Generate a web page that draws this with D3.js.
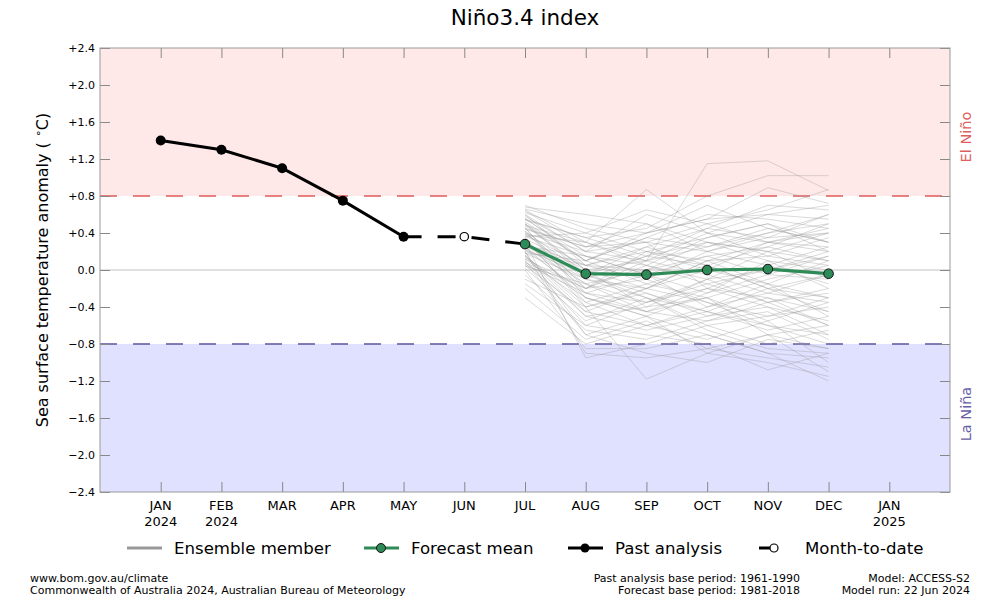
<!DOCTYPE html>
<html><head><meta charset="utf-8">
<script src="https://cdn.jsdelivr.net/npm/d3@7"></script>
<style>body{margin:0;background:#fff}svg{font-family:"DejaVu Sans",sans-serif}</style>
</head><body>
<svg id="c" width="1000" height="600"></svg>
<script>
const monthLabels = ["JAN","FEB","MAR","APR","MAY","JUN","JUL","AUG","SEP","OCT","NOV","DEC","JAN"];
const yearLabels  = ["2024","2024","","","","","","","","","","","2025"];
const yTicks = [2.4,2.0,1.6,1.2,0.8,0.4,0.0,-0.4,-0.8,-1.2,-1.6,-2.0,-2.4];
const pastIdx = [0,1,2,3,4];
const pastVals = [1.40,1.30,1.10,0.75,0.36];
const mtdIdx = [4,5,6];
const mtdVals = [0.36,0.36,0.28];
const fcIdx = [6,7,8,9,10,11];
const fcVals = [0.28,-0.04,-0.05,0.00,0.01,-0.04];
const ensIdx = [6,7,8,9,10,11];
const ensemble = [
[0.70,0.45,0.30,0.20,0.35,0.40],[0.65,0.30,0.87,0.40,0.30,0.25],[0.60,0.20,0.10,1.15,1.18,0.86],
[0.55,0.35,0.45,0.80,1.02,1.02],[0.50,0.10,0.40,0.55,0.89,0.72],[0.45,0.25,0.30,0.50,0.65,0.87],
[0.68,0.60,0.50,0.30,0.20,0.10],[0.40,-0.10,-0.30,-0.45,-0.60,-0.70],[0.35,-0.40,-1.18,-0.90,-0.70,-0.60],
[0.30,-0.95,-0.80,-0.60,-0.50,-0.40],[0.20,-0.70,-0.90,-1.00,-0.75,-0.85],[0.10,-0.60,-0.70,-0.80,-1.08,-0.90],
[0.25,-0.30,-0.50,-0.70,-0.90,-1.20],[0.15,-0.50,-0.40,-0.30,-0.55,-1.00],[0.00,-0.85,-0.85,-0.70,-0.90,-0.95],
[-0.10,-0.40,-0.20,-0.35,-0.60,-0.80],[-0.30,-0.80,-0.60,-0.45,-0.20,-0.30],[0.50,0.00,-0.20,0.10,0.30,0.20],
[0.55,0.15,0.05,-0.10,0.00,0.15],[0.45,-0.20,-0.10,0.20,0.40,0.50],[0.38,0.05,0.25,0.45,0.35,0.60],
[0.32,-0.15,-0.35,-0.20,0.05,0.25],[0.28,-0.05,0.15,0.30,0.20,-0.10],[0.22,-0.25,-0.45,-0.55,-0.35,-0.20],
[0.18,0.10,0.35,0.60,0.55,0.45],[0.12,-0.35,-0.15,0.05,-0.20,-0.45],[0.05,-0.45,-0.60,-0.40,-0.25,-0.05],
[0.62,0.40,0.20,0.35,0.50,0.30],[0.58,0.20,0.60,0.40,0.15,0.05],[0.48,0.30,0.10,-0.05,-0.25,-0.35],
[0.42,-0.05,-0.25,-0.50,-0.40,-0.55],[0.36,0.15,-0.05,0.15,0.25,0.10],[0.30,-0.20,0.05,-0.15,-0.35,-0.25],
[0.26,-0.10,-0.20,0.10,0.15,0.35],[0.20,0.05,0.20,0.00,-0.15,-0.30],[0.14,-0.30,-0.50,-0.25,0.10,0.00],
[0.08,-0.20,0.10,0.25,0.45,0.30],[0.02,-0.55,-0.30,-0.60,-0.80,-0.65],[-0.05,-0.65,-0.75,-0.55,-0.45,-0.75],
[-0.20,-0.75,-0.55,-0.85,-0.95,-1.05],[0.66,0.50,0.40,0.55,0.60,0.55],[0.52,0.10,-0.15,-0.30,-0.10,0.05],
[0.44,0.25,0.50,0.20,0.05,-0.15],[0.34,0.00,-0.40,-0.10,0.20,0.40],[0.24,-0.15,0.00,0.30,0.10,-0.20],
[0.16,-0.40,-0.25,-0.45,-0.65,-0.50],[0.06,-0.25,-0.35,-0.15,0.00,0.20],[0.60,0.05,0.00,0.15,-0.05,-0.10],
[0.40,0.20,0.30,-0.20,-0.30,-0.45],[0.28,0.05,-0.10,-0.35,-0.50,-0.30],[0.18,-0.10,0.15,0.45,0.70,0.65],
[0.10,-0.50,-0.65,-0.50,-0.30,-0.60],[0.54,0.35,0.15,0.05,0.25,0.50],[0.46,-0.30,-0.45,-0.20,-0.40,-0.70],
[0.38,0.30,0.05,0.35,0.50,0.20],[0.22,-0.05,-0.30,-0.65,-0.85,-0.90],[0.12,-0.20,0.20,0.10,-0.15,0.10],
[0.64,0.25,0.40,0.70,0.45,0.30],[0.50,-0.05,0.25,0.05,-0.20,-0.05],[0.32,-0.35,-0.60,-0.75,-0.55,-0.35],
[0.26,0.15,-0.05,-0.25,-0.05,0.15],[0.16,-0.45,-0.20,0.00,0.30,0.40],[0.04,-0.15,-0.45,-0.30,-0.70,-0.85],
[0.56,0.10,0.35,0.25,0.40,0.60],[0.42,-0.25,-0.05,-0.40,-0.15,-0.50],[0.36,0.40,0.65,0.50,0.30,0.45],
[0.20,-0.90,-0.95,-0.85,-0.70,-1.10],[0.08,-0.70,-0.50,-0.90,-1.00,-1.15],[-0.15,-0.60,-0.35,-0.10,-0.35,-0.60],
[0.48,0.00,0.10,0.40,0.60,0.70]
];
const elNino = 0.8, laNina = -0.8;

const svg = d3.select("#c");
const L=100,R=950,T=48,B=492;
const x = d3.scaleLinear().domain([-1,13]).range([L,R]);
const y = d3.scaleLinear().domain([-2.4,2.4]).range([B,T]);

// background bands
svg.append("rect").attr("x",L).attr("y",y(2.4)).attr("width",R-L).attr("height",y(elNino)-y(2.4)).attr("fill","#ffe8e8");
svg.append("rect").attr("x",L).attr("y",y(laNina)).attr("width",R-L).attr("height",y(-2.4)-y(laNina)).attr("fill","#e0e0ff");
// zero line
svg.append("line").attr("x1",L).attr("x2",R).attr("y1",y(0)).attr("y2",y(0)).attr("stroke","#c4c4c4").attr("stroke-width",1.2);
// threshold lines
svg.append("line").attr("x1",L).attr("x2",R).attr("y1",y(elNino)).attr("y2",y(elNino)).attr("stroke","#e05a5a").attr("stroke-width",1.5).attr("stroke-dasharray","17,16");
svg.append("line").attr("x1",L).attr("x2",R).attr("y1",y(laNina)).attr("y2",y(laNina)).attr("stroke","#5a55a0").attr("stroke-width",1.5).attr("stroke-dasharray","17,16");

// axes (ticks inward)
const ax = d3.range(0,13);
const xb = svg.append("g").attr("transform",`translate(0,${B})`).call(d3.axisBottom(x).tickValues(ax).tickSizeInner(-10).tickSizeOuter(0).tickFormat(""));
const xt = svg.append("g").attr("transform",`translate(0,${T})`).call(d3.axisTop(x).tickValues(ax).tickSizeInner(-10).tickSizeOuter(0).tickFormat(""));
const fmt = v => v===0 ? "0.0" : (v>0?"+":"\u2212")+Math.abs(v).toFixed(1);
const yl = svg.append("g").attr("transform",`translate(${L},0)`).call(d3.axisLeft(y).tickValues(yTicks).tickSizeInner(-10).tickSizeOuter(0).tickPadding(6).tickFormat(fmt));
const yr = svg.append("g").attr("transform",`translate(${R},0)`).call(d3.axisRight(y).tickValues(yTicks).tickSizeInner(-10).tickSizeOuter(0).tickFormat(""));
[xb,xt,yl,yr].forEach(g=>{g.select(".domain").remove();g.selectAll("line").attr("stroke","#888");});
yl.selectAll("text").attr("font-size",11).attr("fill","#000").attr("font-family","DejaVu Sans").attr("x",-5);
// frame
svg.append("rect").attr("x",L).attr("y",T).attr("width",R-L).attr("height",B-T).attr("fill","none").attr("stroke","#999").attr("stroke-width",1);

// x labels
const xl = svg.append("g").attr("font-size",13).attr("text-anchor","middle");
ax.forEach(i=>{
  xl.append("text").attr("x",x(i)).attr("y",B+18).text(monthLabels[i]);
  if(yearLabels[i]) xl.append("text").attr("x",x(i)).attr("y",B+34).text(yearLabels[i]);
});

// ensemble
const line = d3.line().x(d=>x(d[0])).y(d=>y(d[1]));
svg.append("g").selectAll("path").data(ensemble).join("path")
  .attr("d",m=>line(m.map((v,k)=>[ensIdx[k],v])))
  .attr("fill","none").attr("stroke","#999").attr("stroke-opacity",0.36).attr("stroke-width",1);

// month-to-date
svg.append("path").attr("d",line(mtdIdx.map((d,k)=>[d,mtdVals[k]]))).attr("fill","none").attr("stroke","#000").attr("stroke-width",3).attr("stroke-dasharray","18,16");
// past analysis
svg.append("path").attr("d",line(pastIdx.map((d,k)=>[d,pastVals[k]]))).attr("fill","none").attr("stroke","#000").attr("stroke-width",3);
svg.append("g").selectAll("circle").data(pastIdx).join("circle").attr("cx",d=>x(d)).attr("cy",(d,k)=>y(pastVals[k])).attr("r",5).attr("fill","#000");
svg.append("circle").attr("cx",x(mtdIdx[1])).attr("cy",y(mtdVals[1])).attr("r",4.2).attr("fill","#fff").attr("stroke","#000").attr("stroke-width",1.2);
// forecast mean
svg.append("path").attr("d",line(fcIdx.map((d,k)=>[d,fcVals[k]]))).attr("fill","none").attr("stroke","#2e8b57").attr("stroke-width",3.2);
svg.append("g").selectAll("circle").data(fcIdx).join("circle").attr("cx",d=>x(d)).attr("cy",(d,k)=>y(fcVals[k])).attr("r",4.8).attr("fill","#2e8b57").attr("stroke","#111").attr("stroke-width",1);

// side labels
svg.append("text").attr("transform",`translate(971,137) rotate(-90)`).attr("text-anchor","middle").attr("font-size",14.5).attr("fill","#dd5f5f").text("El Niño");
svg.append("text").attr("transform",`translate(971,${(y(-2.4)+y(laNina))/2-4}) rotate(-90)`).attr("text-anchor","middle").attr("font-size",14.5).attr("fill","#6660a6").text("La Niña");

// title
svg.append("text").attr("x",525).attr("y",25).attr("text-anchor","middle").attr("font-size",21.5).text("Niño3.4 index");
// y label
const yt = svg.append("text").attr("transform",`translate(48,270) rotate(-90)`).attr("text-anchor","middle").attr("font-size",16);
yt.append("tspan").text("Sea surface temperature anomaly ( ");
yt.append("tspan").attr("font-size",11).attr("dy",-6).text("\u2218");
yt.append("tspan").attr("dy",6).text("C)");

// legend
const lg = svg.append("g").attr("font-size",16.6);
const ly = 548;
lg.append("line").attr("x1",127).attr("x2",162).attr("y1",ly).attr("y2",ly).attr("stroke","#999").attr("stroke-width",3);
lg.append("text").attr("x",174).attr("y",ly+6).text("Ensemble member");
lg.append("line").attr("x1",364).attr("x2",399).attr("y1",ly).attr("y2",ly).attr("stroke","#2e8b57").attr("stroke-width",3);
lg.append("circle").attr("cx",381).attr("cy",ly).attr("r",4.5).attr("fill","#2e8b57").attr("stroke","#111");
lg.append("text").attr("x",411).attr("y",ly+6).text("Forecast mean");
lg.append("line").attr("x1",568).attr("x2",603).attr("y1",ly).attr("y2",ly).attr("stroke","#000").attr("stroke-width",3);
lg.append("circle").attr("cx",585).attr("cy",ly).attr("r",4.5).attr("fill","#000");
lg.append("text").attr("x",615).attr("y",ly+6).text("Past analysis");
lg.append("line").attr("x1",759).attr("x2",770).attr("y1",ly).attr("y2",ly).attr("stroke","#000").attr("stroke-width",3);
lg.append("circle").attr("cx",774).attr("cy",ly).attr("r",4).attr("fill","#fff").attr("stroke","#000").attr("stroke-width",1.2);
lg.append("text").attr("x",805).attr("y",ly+6).text("Month-to-date");

// footer
const ft = svg.append("g").attr("font-size",11);
ft.append("text").attr("x",30).attr("y",582).text("www.bom.gov.au/climate");
ft.append("text").attr("x",30).attr("y",594).text("Commonwealth of Australia 2024, Australian Bureau of Meteorology");
ft.append("text").attr("x",800).attr("y",582).attr("text-anchor","end").text("Past analysis base period: 1961-1990");
ft.append("text").attr("x",800).attr("y",594).attr("text-anchor","end").text("Forecast base period: 1981-2018");
ft.append("text").attr("x",970).attr("y",582).attr("text-anchor","end").text("Model: ACCESS-S2");
ft.append("text").attr("x",970).attr("y",594).attr("text-anchor","end").text("Model run: 22 Jun 2024");
</script>
</body></html>
